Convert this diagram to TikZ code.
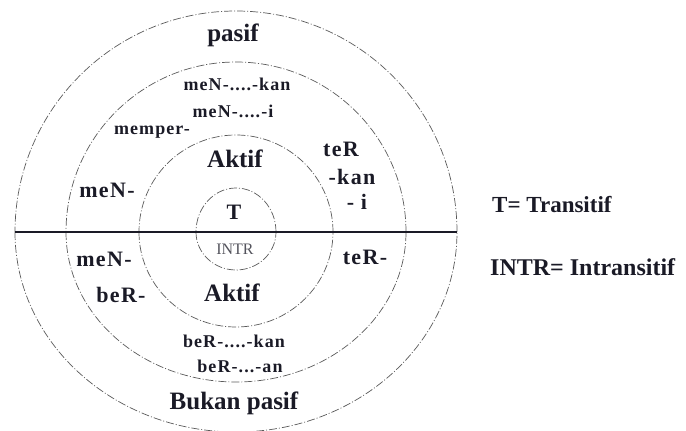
\documentclass[tikz,border=0pt]{standalone}
\usepackage{fontspec}
\setmainfont{Liberation Serif}
\newfontfamily\spaced[LetterSpace=6]{Liberation Serif}
\usepackage{tikz}
\usetikzlibrary{positioning}
\definecolor{ink}{HTML}{1A1A26}
\definecolor{ringgray}{HTML}{5A5A5A}
\tikzset{
  ring/.style={draw=ringgray, line width=0.7pt, dash pattern=on 8pt off 2pt on 1pt off 2pt},
  axis/.style={draw=ink, line width=2pt},
  big/.style={font=\fontsize{25}{27}\selectfont\bfseries, text=ink, inner sep=0pt, anchor=base},
  mid/.style={font=\spaced\fontsize{22}{24}\selectfont\bfseries, text=ink, inner sep=0pt, anchor=base},
  small/.style={font=\spaced\fontsize{18}{20}\selectfont\bfseries, text=ink, inner sep=0pt, anchor=base},
  tiny/.style={font=\fontsize{16}{18}\selectfont, text=ink!75, inner sep=0pt, anchor=base},
  legend/.style={font=\fontsize{24}{26}\selectfont\bfseries, text=ink, inner sep=0pt, anchor=base west},
}

\begin{document}
\begin{tikzpicture}[x=1pt,y=1pt]
  \useasboundingbox (0,0) rectangle (686,431);

  \coordinate (c) at (236,199);

  % rings: upper half round, lower half flattened
  \draw[ring] (c) ++(221,0) arc[start angle=0,end angle=180,radius=221];
  \draw[ring] (c) ++(-221,0) arc[start angle=180,end angle=360,x radius=221,y radius=200];
  \draw[ring] (c) ++(170,0) arc[start angle=0,end angle=180,radius=170];
  \draw[ring] (c) ++(-170,0) arc[start angle=180,end angle=360,x radius=170,y radius=150];
  \draw[ring] (c) ++(97,0) arc[start angle=0,end angle=180,radius=97];
  \draw[ring] (c) ++(-97,0) arc[start angle=180,end angle=360,x radius=97,y radius=95];
  \draw[ring] (c) ++(40,0) arc[start angle=0,end angle=180,x radius=40,y radius=44];
  \draw[ring] (c) ++(-40,0) arc[start angle=180,end angle=360,x radius=40,y radius=38];

  \coordinate (west) at (15,199);
  \coordinate (east) at (457,199);
  \draw[axis] (west) -- (east);

  % upper half
  \node[big] (pasif) at (233,389) {pasif};
  \node[small] (menkan) at (237,340) {meN-....-kan};
  \node[small] (meni) at (233,313) {meN-....-i};
  \node[small] (memper) at (152,296) {memper-};
  \node[big] (aktifup) at (235,263) {Aktif};
  \node[mid] (terup) at (341,274) {teR};
  \node[mid] (kan) at (352,246) {-kan};
  \node[mid] (ii) at (357,221) {- i};
  \node[mid] (menup) at (107,233) {meN-};
  \node[big, font=\fontsize{22}{24}\selectfont\bfseries] (t) at (234,211) {T};

  % lower half
  \node[tiny] (intr) at (235,176) {INTR};
  \node[mid] (menlow) at (104,164) {meN-};
  \node[mid] (ber) at (121,128) {beR-};
  \node[big] (aktiflow) at (232,129) {Aktif};
  \node[mid] (terlow) at (365,166) {teR-};
  \node[small] (berkan) at (234,83) {beR-....-kan};
  \node[small] (beran) at (240,58) {beR-...-an};
  \node[big] (bukan) at (234,21) {Bukan pasif};

  % legend
  \node[legend, font=\fontsize{23}{25}\selectfont\bfseries] (legt) at (492,218) {T= Transitif};
  \node[legend] (legintr) at (490,155) {INTR= Intransitif};

\end{tikzpicture}
\end{document}
